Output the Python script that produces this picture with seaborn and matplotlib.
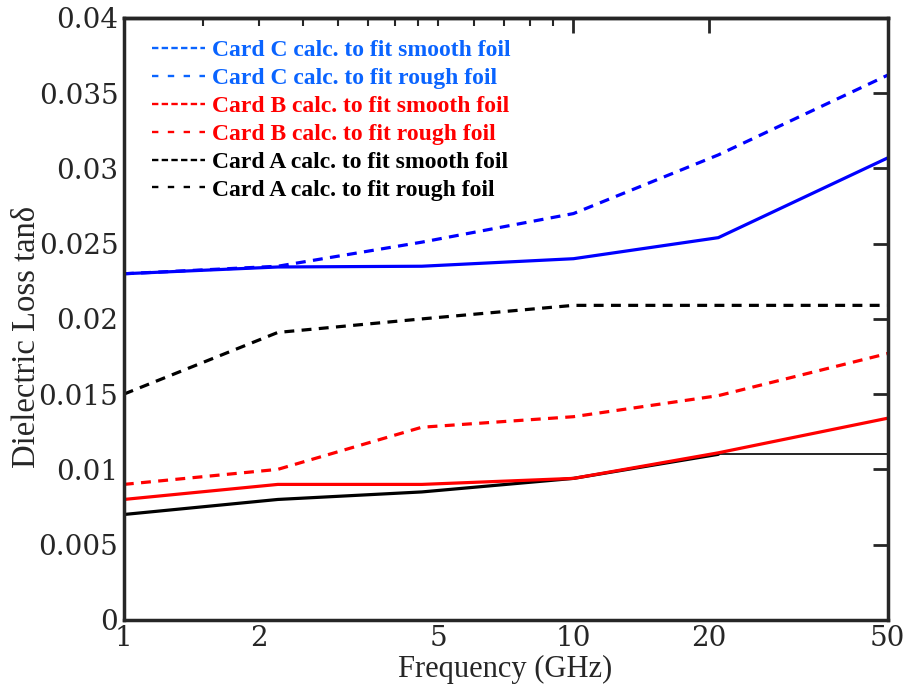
import numpy as np
import pandas as pd
import matplotlib
matplotlib.use('Agg')
import matplotlib.pyplot as plt
import seaborn as sns
from matplotlib.lines import Line2D
from matplotlib.ticker import FixedLocator, FuncFormatter, NullFormatter

# frequency points (GHz)
freq = [1, 2.2, 4.6, 10, 21, 50]

card_c_smooth = [0.0230, 0.02345, 0.0235, 0.0240, 0.0254, 0.0307]
card_c_rough = [0.0230, 0.0235, 0.0251, 0.0270, 0.0309, 0.0362]
card_b_smooth = [0.0080, 0.0090, 0.0090, 0.0094, 0.0111, 0.0134]
card_b_rough = [0.0090, 0.0100, 0.0128, 0.0135, 0.0149, 0.0177]
card_a_smooth = [0.0070, 0.0080, 0.0085, 0.0094, 0.0110, 0.0110]
card_a_rough = [0.0150, 0.0191, 0.0200, 0.0209, 0.0209, 0.0209]

labels = ['Card C calc. to fit smooth foil', 'Card C calc. to fit rough foil',
          'Card B calc. to fit smooth foil', 'Card B calc. to fit rough foil',
          'Card A calc. to fit smooth foil', 'Card A calc. to fit rough foil']

major_x = [1, 2, 5, 10, 20, 50]
minor_x = [1.5, 2.5, 3, 3.5, 4, 4.5, 6, 7, 8, 9]
y_ticks = [0, 0.005, 0.01, 0.015, 0.02, 0.025, 0.03, 0.035, 0.04]

sns.set_style('white')
plt.rcParams['font.family'] = ['DejaVu Serif']

fig = plt.figure(figsize=(9.04, 6.91), dpi=100)
ax = fig.add_axes([0.137, 0.103, 0.845, 0.871])

lw = 2.3
dash = (3.1, 2.3)
sns.lineplot(x=freq, y=card_c_smooth, ax=ax, color='#0000ff', lw=lw)
sns.lineplot(x=freq, y=card_c_rough, ax=ax, color='#0000ff', lw=lw).lines[-1].set_dashes(dash)
sns.lineplot(x=freq, y=card_a_rough, ax=ax, color='black', lw=lw).lines[-1].set_dashes(dash)
sns.lineplot(x=freq, y=card_b_rough, ax=ax, color='#ff0000', lw=lw).lines[-1].set_dashes(dash)
sns.lineplot(x=freq[:5], y=card_a_smooth[:5], ax=ax, color='black', lw=lw)
sns.lineplot(x=freq[4:], y=card_a_smooth[4:], ax=ax, color='black', lw=1.2)
sns.lineplot(x=freq, y=card_b_smooth, ax=ax, color='#ff0000', lw=lw)

ax.set_xscale('log')
ax.set_xlim(1, 50)
ax.set_ylim(0, 0.04)
ax.xaxis.set_major_locator(FixedLocator(major_x))
ax.xaxis.set_minor_locator(FixedLocator(minor_x))
ax.xaxis.set_major_formatter(FuncFormatter(lambda v, p: '%g' % v))
ax.xaxis.set_minor_formatter(NullFormatter())
ax.set_yticks(y_ticks)
ax.yaxis.set_major_formatter(FuncFormatter(lambda v, p: '%g' % v))

ax.tick_params(axis='both', which='major', direction='in', length=11, width=2,
               labelsize=20, right=True, top=False, pad=4)
ax.tick_params(axis='x', which='minor', direction='in', length=6, width=1.5, top=False)
for s in ax.spines.values():
    s.set_linewidth(2.5)

# top axis ticks (only 10 and 20 long)
top = ax.secondary_xaxis('top')
top.set_xticks([10, 20])
top.xaxis.set_minor_locator(FixedLocator([1.5, 2, 2.5, 3, 3.5, 4, 4.5, 5, 6, 7, 8, 9]))
top.xaxis.set_minor_formatter(NullFormatter())
top.tick_params(axis='x', which='major', direction='in', length=11, width=2, labeltop=False)
top.tick_params(axis='x', which='minor', direction='in', length=6, width=1.5)
top.spines['top'].set_linewidth(2.5)

ax.set_xlabel('Frequency (GHz)', fontsize=22, family='Liberation Serif')
ax.set_ylabel('Dielectric Loss tan\u03b4', fontsize=23.5, family='Liberation Serif')
ax.xaxis.set_label_coords(0.499, -0.058)
ax.yaxis.set_label_coords(-0.107, 0.47)

leg_colors = ['#0a64ff', '#0a64ff', '#ff0000', '#ff0000', 'black', 'black']
handles = []
for i, c in enumerate(leg_colors):
    d = (2.7, 1.4) if i % 2 == 0 else (2.7, 4.0)
    handles.append(Line2D([], [], color=c, lw=1.7, dashes=d))
leg = ax.legend(handles, labels, loc='upper left', bbox_to_anchor=(0.037, 0.964),
                frameon=False, borderpad=0, borderaxespad=0,
                handlelength=2.25, handletextpad=0.3,
                labelspacing=0.27,
                prop={'family': 'Liberation Serif', 'weight': 'bold', 'size': 17},
                labelcolor=leg_colors)

fig.savefig('out.png', dpi=100)
